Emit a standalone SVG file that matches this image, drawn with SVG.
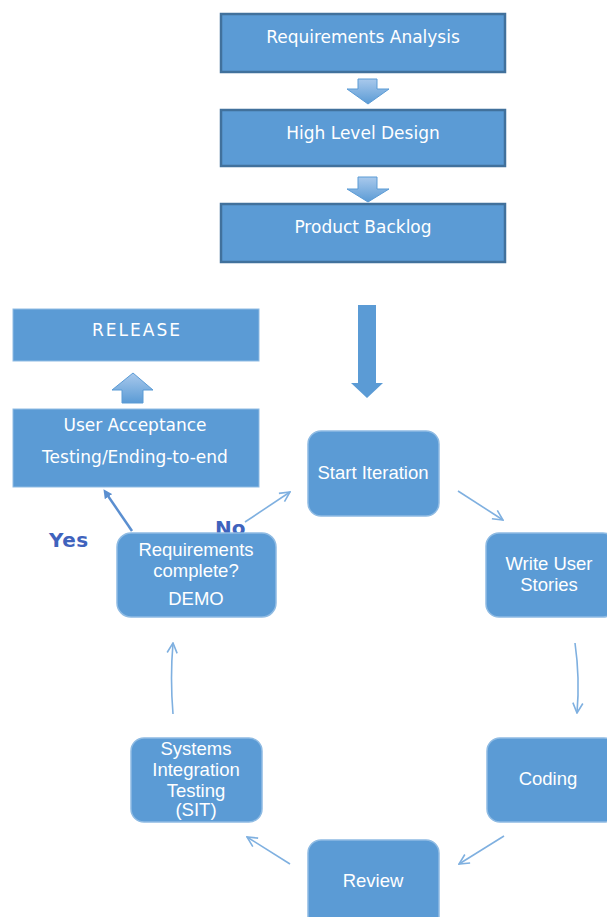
<svg xmlns="http://www.w3.org/2000/svg" width="607" height="917" viewBox="0 0 607 917">
  <style>
    .box { fill: #5b9bd5; stroke: #41719c; stroke-width: 2.5; }
    .flat { fill: #5b9bd5; stroke: #8fbbe3; stroke-width: 1; }
    .round { fill: #5b9bd5; stroke: #8fbbe3; stroke-width: 1.5; }
    .lbl { fill: #ffffff; font-family: "DejaVu Sans", "Liberation Sans", sans-serif; font-size: 17px; text-anchor: middle; }
    .cyc { fill: #ffffff; font-family: "Liberation Sans", Arial, sans-serif; font-size: 18.5px; text-anchor: middle; }
    .block { stroke: #5b9bd5; stroke-width: 1; fill: url(#blk); }
    .flow { fill: none; stroke: #7fb0e0; stroke-width: 1.6; marker-end: url(#open); }
    .ans { font-family: "DejaVu Sans", "Liberation Sans", sans-serif; font-weight: bold; font-size: 20px; fill: #3f63bd; }
  </style>
  <defs>
    <marker id="open" viewBox="0 0 12 12" refX="11" refY="6" markerWidth="12" markerHeight="12" markerUnits="userSpaceOnUse" orient="auto">
      <path d="M1,1 L11,6 L1,11" fill="none" stroke="#7fb0e0" stroke-width="1.6"/>
    </marker>
    <marker id="solid" viewBox="0 0 10 10" refX="5" refY="5" markerWidth="9" markerHeight="9" markerUnits="userSpaceOnUse" orient="auto">
      <path d="M0,0 L10,5 L0,10 Z" fill="#5b8fd0"/>
    </marker>
    <linearGradient id="blk" x1="0" y1="0" x2="0" y2="1">
      <stop offset="0" stop-color="#a9c9ec"/>
      <stop offset="1" stop-color="#5b9bd5"/>
    </linearGradient>
  </defs>

  <!-- planning stages -->
  <g id="req-analysis">
    <rect class="box" x="221" y="14" width="284" height="58"/>
    <text class="lbl" x="363" y="43">Requirements Analysis</text>
  </g>
  <g id="high-level-design">
    <rect class="box" x="221" y="110" width="284" height="56"/>
    <text class="lbl" x="363" y="139">High Level Design</text>
  </g>
  <g id="product-backlog">
    <rect class="box" x="221" y="204" width="284" height="58"/>
    <text class="lbl" x="363" y="233">Product Backlog</text>
  </g>

  <!-- release path -->
  <g id="release">
    <rect class="flat" x="13" y="309" width="246" height="52"/>
    <text class="lbl" x="137" y="336" style="letter-spacing:2px">RELEASE</text>
  </g>
  <g id="uat">
    <rect class="flat" x="13" y="409" width="246" height="78"/>
    <text class="lbl" x="135" y="431">User Acceptance</text>
    <text class="lbl" x="135" y="463">Testing/Ending-to-end</text>
  </g>

  <!-- answers of the decision; "No" sits partly behind the decision box -->
  <text class="ans" x="49" y="547" style="letter-spacing:0.5px">Yes</text>
  <text class="ans" x="215" y="535">No</text>

  <!-- iteration cycle -->
  <g id="req-complete">
    <rect class="round" x="117" y="533" width="159" height="84" rx="14"/>
    <text class="cyc" x="196" y="556">Requirements</text>
    <text class="cyc" x="196" y="577">complete?</text>
    <text class="cyc" x="196" y="605">DEMO</text>
  </g>
  <g id="start-iteration">
    <rect class="round" x="308" y="431" width="131" height="85" rx="13"/>
    <text class="cyc" x="373" y="479">Start Iteration</text>
  </g>
  <g id="write-stories">
    <rect class="round" x="486" y="533" width="130" height="84" rx="13"/>
    <text class="cyc" x="549" y="570">Write User</text>
    <text class="cyc" x="549" y="591">Stories</text>
  </g>
  <g id="coding">
    <rect class="round" x="487" y="738" width="130" height="84" rx="13"/>
    <text class="cyc" x="548" y="785">Coding</text>
  </g>
  <g id="review">
    <rect class="round" x="308" y="840" width="131" height="90" rx="13"/>
    <text class="cyc" x="373" y="887">Review</text>
  </g>
  <g id="sit">
    <rect class="round" x="131" y="738" width="131" height="84" rx="13"/>
    <text class="cyc" x="196" y="755">Systems</text>
    <text class="cyc" x="196" y="776">Integration</text>
    <text class="cyc" x="196" y="797">Testing</text>
    <text class="cyc" x="196" y="816">(SIT)</text>
  </g>

  <g id="connectors">
    <!-- block arrows between planning stages -->
    <path class="block" d="M358,79 H377 V89 H389 L368,104 L347,89 H358 Z"/>
    <path class="block" d="M358,177 H377 V189 H389 L368,202 L347,189 H358 Z"/>
    <!-- backlog into the iteration -->
    <path d="M358,305 H376 V383 H383 L367,398 L351,383 H358 Z" fill="#5b9bd5"/>
    <!-- up to release -->
    <path class="block" d="M133,373 L153,390 H143 V403 H122 V390 H112 Z"/>
    <!-- decision outcomes -->
    <path d="M132,531 L106,493" stroke="#5b8fd0" stroke-width="2.5" fill="none" marker-end="url(#solid)"/>
    <path class="flow" d="M245,522 L290,492"/>
    <!-- cycle -->
    <path class="flow" d="M458,491 L503,520"/>
    <path class="flow" d="M575,643 Q580,678 577,713"/>
    <path class="flow" d="M504,836 L459,864"/>
    <path class="flow" d="M290,864 L247,837"/>
    <path class="flow" d="M173,714 Q170,678 173,643"/>
  </g>
</svg>
